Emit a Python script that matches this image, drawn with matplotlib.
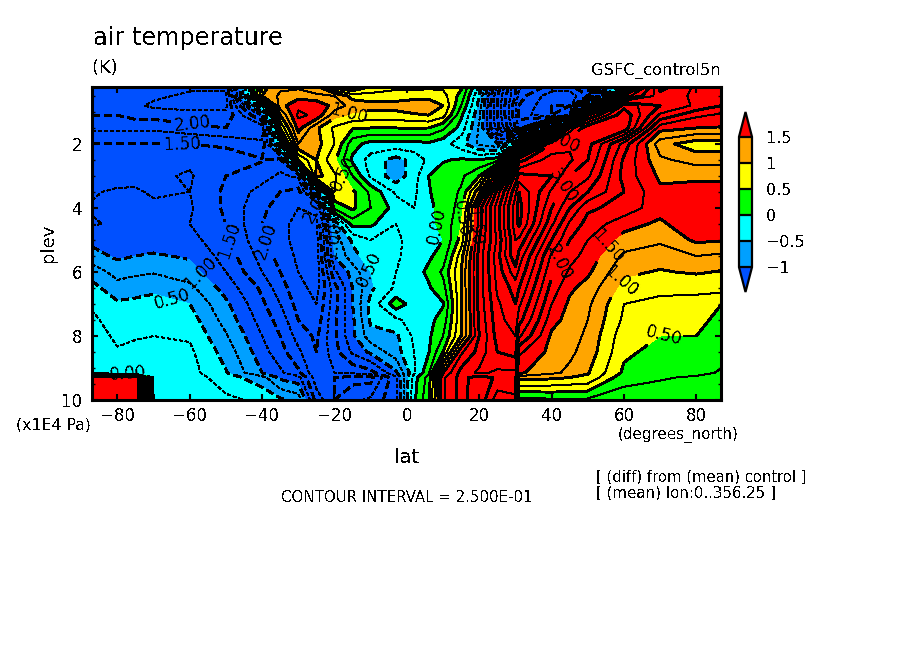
import numpy as np
import matplotlib
matplotlib.use('Agg')
import matplotlib.pyplot as plt
from matplotlib.colors import ListedColormap, BoundaryNorm

plt.rcParams['font.family'] = 'DejaVu Sans'
plt.rcParams['text.antialiased'] = False

# latitude and pressure (x1E4 Pa) of the grid
lat = [-87, -80, -75, -70, -60, -50, -40, -35, -30, -25, -20, -15, -10, -3, 2,
       6, 10, 15, 20, 25, 30, 31, 40, 45, 50, 60, 70, 80, 87]
plev = [0.22, 0.5, 0.8, 1.1, 1.5, 2, 2.5, 3, 3.5, 4, 4.5, 5, 5.5, 6, 6.5, 7, 7.5, 8, 8.5,
        9.15, 9.3, 10]

# temperature difference (K), one row per level
temp_diff = [
    [-2.0, -2.1, -2.1, -2.1, -2.2, -2.2, 0.9, 1.2, 1.2, 1.1, 0.4, 0.2, 0.55, 0.7, 0.7, 0.7, 0.7, 0.55, -0.3, -1.8, -3.0, -3.2, -3.6, -3.6, -3.2, 0.5, 2.6, 2.2, 2.0],
    [-2.1, -2.2, -2.2, -2.2, -2.3, -2.3, 1.0, 1.3, 1.4, 1.3, 1.25, 0.9, 0.85, 0.85, 0.85, 0.9, 0.85, 0.4, -0.5, -2.0, -3.0, -3.4, -3.9, -3.9, -3.5, 1.6, 2.4, 2.2, 2.2],
    [-2.2, -2.2, -2.2, -2.3, -2.3, -2.3, -0.2, 1.4, 1.7, 1.7, 1.4, 1.15, 1.1, 1.12, 1.25, 1.2, 1.0, 0.25, -0.6, -2.0, -3.2, -3.5, -4.0, -4.0, -0.5, 2.9, 2.5, 2.2, 2.0],
    [-2.0, -2.0, -2.1, -2.1, -2.2, -2.2, -1.2, 1.0, 1.8, 1.7, 1.1, 0.95, 0.9, 0.9, 0.95, 1.0, 0.85, 0.05, -0.7, -2.0, -3.2, -3.6, -4.0, -3.8, 2.2, 3.2, 2.2, 1.8, 1.7],
    [-1.8, -1.8, -1.8, -1.8, -1.9, -2.0, -1.9, 0.5, 1.6, 1.05, 0.7, 0.52, 0.5, 0.5, 0.52, 0.5, 0.3, -0.1, -0.8, -1.9, -3.0, -3.3, -0.5, 2.6, 3.2, 3.2, 1.6, 1.5, 1.48],
    [-1.5, -1.5, -1.5, -1.5, -1.5, -1.55, -1.7, -0.2, 1.25, 1.1, 0.75, 0.1, -0.1, -0.1, -0.1, -0.05, -0.15, -0.4, -0.8, -0.95, -0.2, 0.8, 3.0, 3.2, 3.1, 2.15, 1.1, 0.85, 0.85],
    [-1.42, -1.4, -1.37, -1.35, -1.3, -1.35, -1.48, -1.6, 0.5, 1.0, 0.55, -0.05, -0.35, -0.6, -0.4, -0.2, -0.02, 0.03, 0.02, 0.15, 2.2, 2.9, 3.4, 3.3, 3.0, 1.95, 1.3, 1.15, 1.15],
    [-1.36, -1.33, -1.3, -1.3, -1.22, -1.5, -1.65, -1.8, -1.7, 1.1, 0.8, 0.25, -0.3, -0.65, -0.35, 0.0, 0.1, 0.2, 0.5, 1.7, 3.3, 3.6, 3.5, 3.0, 2.8, 1.9, 1.45, 1.45, 1.45],
    [-1.27, -1.22, -1.23, -1.27, -1.25, -1.55, -1.85, -2.0, -2.1, -1.0, 0.75, 0.55, 0.2, -0.3, -0.3, -0.02, 0.12, 0.28, 1.2, 2.6, 3.7, 4.0, 3.2, 2.75, 2.5, 2.0, 1.55, 1.6, 1.6],
    [-1.23, -1.2, -1.22, -1.22, -1.22, -1.55, -1.95, -2.1, -2.25, -2.2, 0.3, 0.55, 0.25, -0.1, -0.25, -0.05, 0.08, 0.35, 1.9, 2.9, 3.9, 4.1, 3.0, 2.5, 2.05, 1.9, 1.6, 1.75, 1.7],
    [-1.27, -1.22, -1.23, -1.2, -1.25, -1.5, -2.0, -2.2, -2.3, -2.3, -0.7, 0.1, 0.05, -0.25, -0.2, -0.03, 0.03, 0.5, 1.85, 2.9, 3.9, 4.05, 2.8, 2.2, 1.9, 1.6, 1.45, 1.7, 1.65],
    [-1.07, -1.15, -1.14, -1.13, -1.15, -1.45, -1.95, -2.2, -2.3, -2.35, -0.9, -0.45, -0.25, -0.3, -0.15, -0.05, 0.0, 0.6, 2.0, 2.8, 3.75, 3.7, 2.5, 2.0, 1.75, 1.4, 1.3, 1.55, 1.52],
    [-0.9, -1.05, -1.0, -0.97, -1.03, -1.35, -1.85, -2.1, -2.3, -2.4, -1.0, -0.6, -0.35, -0.3, -0.12, -0.04, 0.1, 0.9, 2.1, 2.9, 3.7, 3.4, 2.2, 1.85, 1.65, 1.2, 1.1, 1.25, 1.2],
    [-0.6, -0.85, -0.8, -0.77, -0.9, -1.25, -1.75, -2.0, -2.25, -2.4, -1.3, -0.9, -0.5, -0.25, -0.1, 0.05, 0.3, 1.0, 2.1, 2.85, 3.4, 3.2, 2.05, 1.7, 1.55, 1.05, 0.98, 1.03, 0.98],
    [-0.42, -0.65, -0.6, -0.55, -0.68, -1.1, -1.55, -1.9, -2.15, -2.35, -1.6, -1.0, -0.55, -0.2, -0.1, -0.03, 0.15, 0.98, 2.1, 2.8, 3.1, 3.0, 1.9, 1.55, 1.4, 0.9, 0.8, 0.8, 0.85],
    [-0.27, -0.46, -0.44, -0.42, -0.5, -0.95, -1.45, -1.75, -2.1, -2.25, -1.6, -1.0, -0.42, 0.15, -0.12, -0.12, -0.02, 0.95, 2.1, 2.7, 3.0, 2.8, 1.75, 1.45, 1.3, 0.75, 0.7, 0.68, 0.5],
    [-0.22, -0.32, -0.31, -0.3, -0.38, -0.85, -1.35, -1.6, -2.0, -2.15, -1.55, -1.05, -0.45, -0.3, -0.15, -0.07, 0.1, 0.95, 2.05, 2.65, 2.9, 2.6, 1.6, 1.4, 1.25, 0.7, 0.6, 0.58, 0.42],
    [-0.2, -0.27, -0.26, -0.25, -0.28, -0.72, -1.25, -1.5, -1.85, -2.05, -1.55, -1.05, -0.6, -0.55, -0.2, -0.05, 0.25, 1.0, 2.0, 2.6, 2.75, 2.3, 1.45, 1.35, 1.2, 0.6, 0.5, 0.5, 0.38],
    [-0.2, -0.24, -0.22, -0.2, -0.2, -0.6, -1.15, -1.4, -1.7, -2.0, -1.6, -1.2, -0.95, -0.6, -0.25, -0.02, 0.5, 1.7, 2.1, 2.5, 2.6, 1.8, 1.42, 1.3, 1.15, 0.55, 0.42, 0.42, 0.32],
    [-0.15, -0.2, -0.18, -0.15, -0.15, -0.48, -1.0, -1.2, -1.45, -1.95, -1.75, -1.7, -1.6, -1.05, -0.3, 0.2, 1.5, 2.1, 2.3, 2.2, 2.2, 1.55, 1.3, 1.2, 1.02, 0.45, 0.33, 0.3, 0.23],
    [2.0, 2.0, 2.0, -0.15, -0.12, -0.38, -0.65, -1.05, -1.15, -1.9, -2.0, -2.1, -2.1, -1.3, -0.1, 0.35, 1.7, 2.1, 1.85, 2.05, 2.1, 1.1, 1.05, 1.0, 0.95, 0.32, 0.27, 0.22, 0.18],
    [2.0, 2.0, 2.0, -0.03, -0.1, -0.2, -0.3, -0.45, -0.6, -1.6, -2.0, -1.8, -1.7, -1.3, -0.05, 0.45, 1.7, 2.1, 1.8, 2.4, 2.3, 0.15, 0.2, 0.2, 0.2, 0.15, 0.12, 0.1, 0.08],
]

fill_levels = [-1, -0.5, 0, 0.5, 1, 1.5]
fill_colors = ['#00a0ff', '#00ffff', '#00ff00', '#ffff00', '#ffa500']
heavy_levels = [-4, -3.5, -3, -2.5, -2, -1.5, -1, -0.5, 0, 0.5, 1, 1.5, 2, 2.5, 3, 3.5, 4]
thin_levels = [-3.75, -3.25, -2.75, -2.25, -1.75, -1.25, -0.75, -0.25, 0.25, 0.75, 1.25, 1.75, 2.25, 2.75, 3.25, 3.75]

# contour labels: (lat, plev) of each one
label_spots = [(-58.6, 0.72), (-62, 1.94), (-15.7, 1.16), (-18.5, 2.97), (-24.6, 3.9),
               (-21, 5), (-49, 5), (-38, 5), (-57, 6), (-65, 6.94), (-7.5, 5.7),
               (8.5, 4.55), (14, 4.3), (18.5, 4.6), (41.7, 5.7), (45, 3.44), (44, 2.34),
               (55.5, 5.2), (60, 6.35), (71, 8.06), (-77, 9.16)]

W, H = 904, 654
fig = plt.figure(figsize=(W / 100, H / 100), dpi=100, facecolor='white')
ax = fig.add_axes([92 / W, 1 - 400 / H, 629 / W, 313 / H])

cmap = ListedColormap(fill_colors)
cmap.set_under('#0050ff')
cmap.set_over('#ff0000')
norm = BoundaryNorm(fill_levels, cmap.N)

X, Y = np.meshgrid(lat, plev)
Z = np.array(temp_diff)

cf = ax.contourf(X, Y, Z, levels=fill_levels, cmap=cmap, norm=norm, extend='both', antialiased=False)

# heavy lines every 0.5, negative lines dashed
dash = (0, (4, 2.5))
ax.contour(X, Y, Z, levels=thin_levels, colors='black', linewidths=0.7,
           linestyles=[dash if v < 0 else 'solid' for v in thin_levels], antialiased=False)
cs = ax.contour(X, Y, Z, levels=heavy_levels, colors='black', linewidths=1.4,
                linestyles=[dash if v < 0 else 'solid' for v in heavy_levels], antialiased=False)
ax.clabel(cs, fmt=lambda v: '%.2f' % abs(v), manual=label_spots, fontsize=12, inline=True, inline_spacing=1)

ax.set_xlim(-87, 86.8)
ax.set_ylim(10, 0.22)
ax.set_xticks([-80, -60, -40, -20, 0, 20, 40, 60, 80])
ax.set_xticklabels(['−80', '−60', '−40', '−20', '0', '20', '40', '60', '80'])
ax.set_yticks([2, 4, 6, 8, 10])
ax.set_yticks([0.5, 1, 1.5, 2.5, 3, 3.5, 4.5, 5, 5.5, 6.5, 7, 7.5, 8.5, 9, 9.5], minor=True)
ax.tick_params(axis='both', which='major', direction='in', length=4.5, width=1.5, top=True, right=True, labelsize=12, pad=5)
ax.tick_params(axis='y', which='major', pad=7)
ax.tick_params(axis='y', which='minor', direction='in', length=2.5, width=1, right=True)
for s in ax.spines.values():
    s.set_linewidth(2.2)

# colour bar with pointed ends, the axes holds the tips too
cax = fig.add_axes([739 / W, 1 - 292 / H, 13 / W, 180 / H])
cb = fig.colorbar(cf, cax=cax, extend='both', extendfrac=0.19, ticks=fill_levels, spacing='uniform', drawedges=True)
cb.ax.set_yticklabels(['−1', '−0.5', '0', '0.5', '1', '1.5'])
cb.ax.tick_params(length=0, labelsize=11.5, pad=10)
cb.outline.set_linewidth(1.6)
cb.dividers.set_linewidth(1.6)
cb.dividers.set_color('black')


def put(x, y, s, **kw):
    fig.text(x / W, 1 - y / H, s, **kw)


put(93, 45, 'air temperature', fontsize=17.3, va='baseline')
put(93, 73, '(K)', fontsize=13, va='baseline')
put(721, 75, 'GSFC_control5n', fontsize=11.8, ha='right', va='baseline')
put(48, 243, 'plev', fontsize=13, rotation=90, ha='center', va='center')
put(16, 429, '(x1E4 Pa)', fontsize=11.3, va='baseline')
put(618, 439, '(degrees_north)', fontsize=10.9, va='baseline')
put(407, 463, 'lat', fontsize=14, ha='center', va='baseline')
put(281, 502, 'CONTOUR INTERVAL = 2.500E-01', fontsize=10.8, va='baseline')
put(596, 482, '[ (diff) from (mean) control ]', fontsize=10.6, va='baseline')
put(596, 498, '[ (mean) lon:0..356.25 ]', fontsize=10.8, va='baseline')

fig.savefig('out.png', dpi=100)
